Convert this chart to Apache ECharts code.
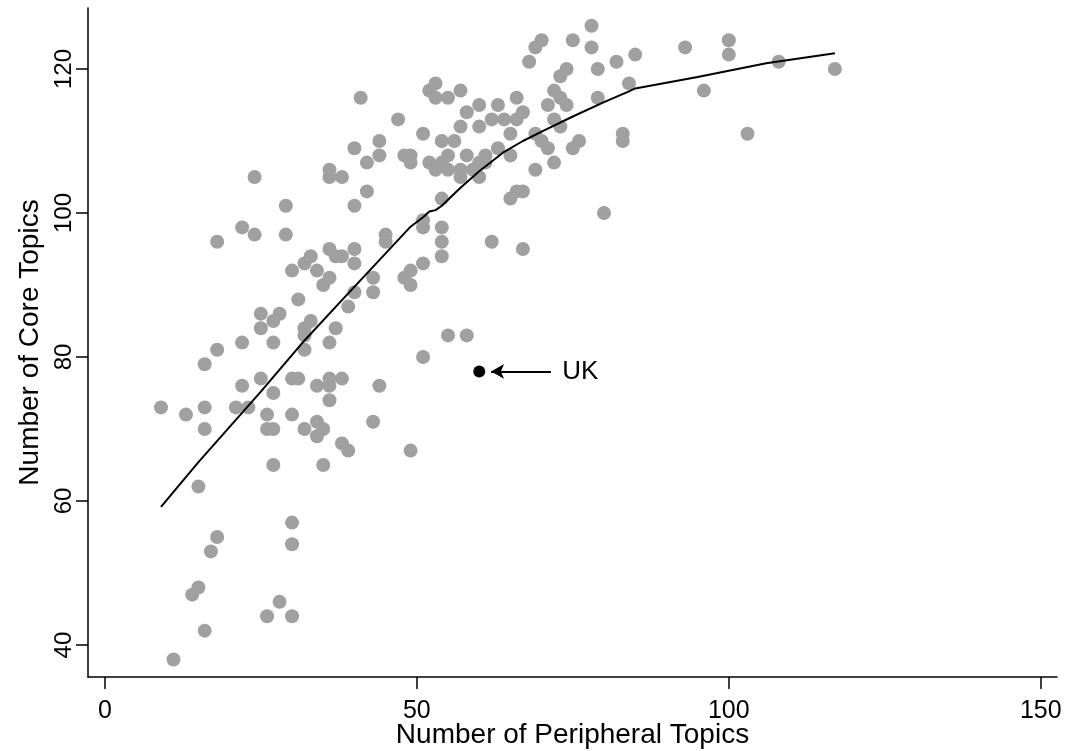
<!DOCTYPE html>
<html>
<head>
<meta charset="utf-8">
<script src="https://cdn.jsdelivr.net/npm/echarts@6/dist/echarts.min.js"></script>
<style>
html,body{margin:0;padding:0;background:#fff;}
#chart{width:1068px;height:751px;}
</style>
</head>
<body>
<div id="chart"></div>
<script>
// Scatter data: number of peripheral topics (x) and core topics (y) per country
const peripheralTopics = [
  9,11,13,14,15,15,16,16,16,16,17,18,18,18,21,22,22,22,23,24,24,25,25,25,26,26,26,
  27,27,27,27,27,28,28,29,29,30,30,30,30,30,30,31,31,32,32,32,32,32,33,33,34,34,34,34,
  35,35,35,36,36,36,36,36,36,36,36,37,37,38,38,38,38,39,39,40,40,40,40,40,41,42,42,
  43,43,43,44,44,44,45,45,47,48,48,49,49,49,49,49,51,51,51,51,51,52,52,53,53,53,
  54,54,54,54,54,54,55,55,55,55,56,57,57,57,57,58,58,58,59,60,60,60,60,61,61,62,62,
  63,63,64,65,65,65,66,66,66,67,67,67,68,69,69,69,70,70,71,71,72,72,72,73,73,73,
  74,74,75,75,76,78,78,79,79,80,82,83,83,84,85,93,96,100,100,103,108,117
];
const coreTopics = [
  73,38,72,47,48,62,73,70,79,42,53,55,81,96,73,76,82,98,73,97,105,77,86,84,44,72,70,
  70,75,82,85,65,86,46,101,97,77,72,57,54,44,92,77,88,93,83,81,84,70,94,85,92,76,71,69,
  70,65,90,91,95,77,74,76,82,106,105,94,84,105,77,68,94,87,67,109,101,95,93,89,116,103,107,
  91,89,71,76,108,110,97,96,113,91,108,92,90,108,107,67,93,98,99,80,111,107,117,118,116,106,
  110,102,98,96,94,107,83,116,108,106,110,117,112,106,105,108,114,83,106,115,112,105,107,108,107,96,113,
  115,109,113,108,111,102,116,113,103,114,95,103,121,106,111,123,124,110,109,115,117,107,113,119,116,112,
  120,115,124,109,110,126,123,116,120,100,121,111,110,118,122,123,117,124,122,111,121,120
];
// Smoothed (lowess) fit line
const fitX = [9, 15, 20, 25, 32, 38, 45, 49, 51, 52, 53, 54, 57, 60, 64, 67, 70, 75, 80, 84, 85, 95, 106, 117];
const fitY = [59.2, 65.4, 70.3, 75.2, 82.3, 87.9, 94.4, 98.1, 99.4, 100.2, 100.4, 101.0, 103.5, 105.8, 108.5, 110.0, 111.3, 113.4, 115.4, 116.9, 117.3, 118.9, 120.8, 122.2];
// Highlighted country
const ukPoint = [60, 78];
const ukLabel = 'UK';
const arrowFrom = [71.5, 78];
const arrowTo = [61.9, 78];
// Axis ticks
const xTicks = [0, 50, 100, 150];
const yTicks = [40, 60, 80, 100, 120];
const xTitle = 'Number of Peripheral Topics';
const yTitle = 'Number of Core Topics';

const scatterData = peripheralTopics.map((x, i) => [x, coreTopics[i]]);
const fitData = fitX.map((x, i) => [x, fitY[i]]);

const FONT = "'Liberation Sans', Arial, sans-serif";
const chart = echarts.init(document.getElementById('chart'), null, {renderer: 'canvas'});
chart.setOption({
  animation: false,
  backgroundColor: '#ffffff',
  grid: {left: 88, right: 11, top: 8, bottom: 74, containLabel: false, outerBoundsMode: 'none'},
  xAxis: {
    type: 'value', min: -2.7, max: 152.6,
    name: xTitle, nameLocation: 'middle', nameGap: 44, nameMoveOverlap: false,
    nameTextStyle: {fontFamily: FONT, fontSize: 28, color: '#000'},
    axisLine: {show: true, onZero: false, lineStyle: {color: '#000', width: 1.5}},
    axisTick: {show: true, length: 12, customValues: xTicks, lineStyle: {color: '#000', width: 1.5}},
    axisLabel: {customValues: xTicks, margin: 22, fontFamily: FONT, fontSize: 25, color: '#000'},
    splitLine: {show: false}
  },
  yAxis: {
    type: 'value', min: 35.56, max: 128.47,
    name: yTitle, nameLocation: 'middle', nameGap: 44, nameMoveOverlap: false,
    nameTextStyle: {fontFamily: FONT, fontSize: 28, color: '#000'},
    axisLine: {show: true, onZero: false, lineStyle: {color: '#000', width: 1.5}},
    axisTick: {show: true, length: 12, customValues: yTicks, lineStyle: {color: '#000', width: 1.5}},
    axisLabel: {customValues: yTicks, rotate: 90, margin: 12, fontFamily: FONT, fontSize: 24, color: '#000'},
    splitLine: {show: false}
  },
  series: [
    {
      type: 'scatter', data: scatterData, symbol: 'circle', symbolSize: 14,
      itemStyle: {color: '#a0a0a0', opacity: 1}, z: 2
    },
    {
      type: 'line', data: fitData, showSymbol: false, symbol: 'none', smooth: false,
      lineStyle: {color: '#000', width: 2}, z: 3
    },
    {
      type: 'scatter', data: [ukPoint], symbol: 'circle', symbolSize: 12,
      itemStyle: {color: '#000', opacity: 1}, z: 4,
      label: {show: true, formatter: ukLabel, position: 'right', distance: 77,
              fontFamily: FONT, fontSize: 26, color: '#000'},
      markLine: {
        silent: true, animation: false,
        symbol: ['none', 'arrow'], symbolSize: [11, 13],
        label: {show: false},
        lineStyle: {color: '#000', width: 2, type: 'solid'},
        data: [[{coord: arrowFrom}, {coord: arrowTo}]]
      }
    }
  ]
});
</script>
</body>
</html>
